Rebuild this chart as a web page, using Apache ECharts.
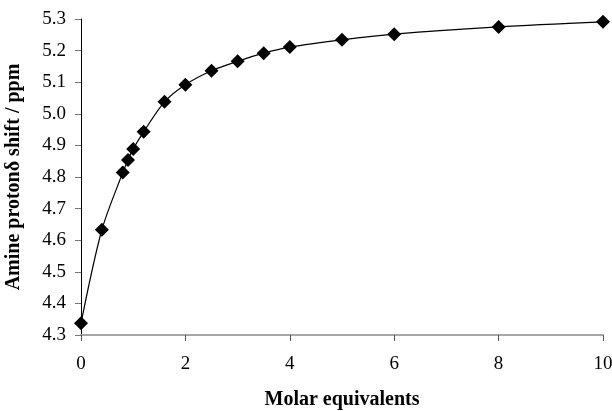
<!DOCTYPE html>
<html>
<head>
<meta charset="utf-8">
<script src="https://cdn.jsdelivr.net/npm/echarts@6/dist/echarts.min.js"></script>
<style>
  html, body { margin: 0; padding: 0; background: #fff; }
  #chart { width: 612px; height: 411px; }
</style>
</head>
<body>
<div id="chart"></div>
<script>
// molar equivalents vs amine proton shift (ppm)
var equivalents = [0, 0.4, 0.8, 0.9, 1.0, 1.2, 1.6, 2.0, 2.5, 3.0, 3.5, 4.0, 5.0, 6.0, 8.0, 10.0];
var shifts = [4.337, 4.633, 4.814, 4.854, 4.889, 4.943, 5.038, 5.092, 5.136, 5.166, 5.192, 5.211, 5.234, 5.252, 5.275, 5.291];

var points = equivalents.map(function(v, i) {
    return [v, shifts[i]];
});

var font = '"Liberation Serif", "Times New Roman", serif';

var option = {
    animation: false,
    grid: {
        top: 19,
        right: 9,
        bottom: 76,
        left: 81,
        outerBoundsMode: 'none'
    },
    xAxis: {
        type: 'value',
        min: 0,
        max: 10,
        interval: 2,
        name: 'Molar equivalents',
        nameLocation: 'middle',
        nameGap: 55,
        nameTextStyle: {
            fontFamily: font,
            fontSize: 20,
            fontWeight: 'bold',
            color: '#000'
        },
        axisLine: {
            lineStyle: { color: '#a6a6a6', width: 2 }
        },
        axisTick: {
            show: true,
            length: 6,
            lineStyle: { color: '#555', width: 1 }
        },
        axisLabel: {
            fontFamily: font,
            fontSize: 19,
            color: '#000',
            margin: 20
        },
        splitLine: { show: false }
    },
    yAxis: {
        type: 'value',
        min: 4.3,
        max: 5.3,
        interval: 0.1,
        name: 'Amine protonδ shift / ppm',
        nameLocation: 'middle',
        nameGap: 57,
        nameTextStyle: {
            fontFamily: font,
            fontSize: 20,
            fontWeight: 'bold',
            color: '#000'
        },
        axisLine: {
            show: true,
            lineStyle: { color: '#000', width: 1 }
        },
        axisTick: {
            show: true,
            length: 6,
            lineStyle: { color: '#777', width: 1 }
        },
        axisLabel: {
            fontFamily: font,
            fontSize: 19,
            color: '#000',
            margin: 15,
            formatter: function(v) { return v.toFixed(1); }
        },
        splitLine: { show: false }
    },
    series: [
        {
            type: 'line',
            data: points,
            smooth: 0.3,
            symbol: 'diamond',
            symbolSize: 14,
            itemStyle: { color: '#000' },
            lineStyle: { color: '#000', width: 1.2 }
        }
    ]
};

var chart = echarts.init(document.getElementById('chart'));
chart.setOption(option);
</script>
</body>
</html>
